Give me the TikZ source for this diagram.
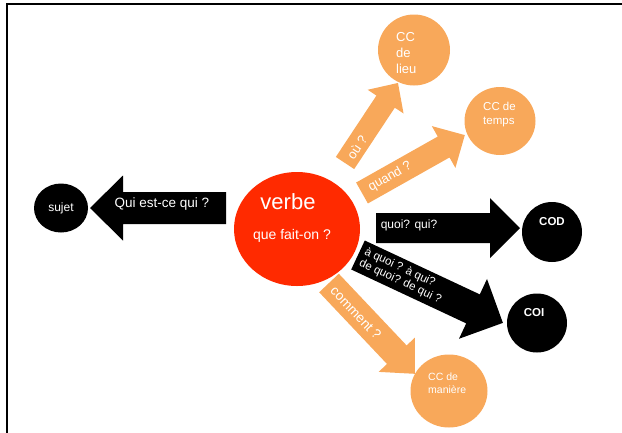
\documentclass[tikz,border=0pt]{standalone}
\usepackage{fontspec}
\setmainfont{Liberation Sans}
\usetikzlibrary{shapes.geometric}
\definecolor{orng}{HTML}{F8A85A}
\definecolor{rouge}{HTML}{FF2A00}
% #1,#2 tail centre (px), #3 angle, #4 length, #5 half shaft, #6 half head, #7 head start, #8 colour
\newcommand\blockarr[8]{%
  \begin{scope}[shift={(#1,#2)},rotate=#3]
    \fill[#8] (0pt,-#5pt) -- (#7pt,-#5pt) -- (#7pt,-#6pt) -- (#4pt,0pt)
      -- (#7pt,#6pt) -- (#7pt,#5pt) -- (0pt,#5pt) -- cycle;
  \end{scope}}
\newcommand\fsz[2]{\fontsize{#1}{#2}\selectfont}
\begin{document}
\begin{tikzpicture}[x=1pt,y=-1pt,
  blob/.style={ellipse, draw=none, inner sep=0pt},
  wtxt/.style={text=white, inner sep=0pt}]
\useasboundingbox (0,0) rectangle (622,432);
% frame
\draw[line width=2pt] (7,433) -- (7,4.3) -- (623,4.3);
% arrows
\blockarr{226}{208}{180}{136}{16}{32.5}{103}{black}
\blockarr{376}{228}{0}{144}{15}{30}{114}{black}
\blockarr{345}{163}{56.5}{96}{11}{21.5}{73.6}{orng}
\blockarr{362}{193}{29.4}{118}{12}{24}{93.7}{orng}
\blockarr{329}{283}{-46.6}{125}{13.5}{25}{98.7}{orng}
\blockarr{358}{255}{-25.1}{160}{16}{33}{127}{black}
% circles
\node[blob, fill=black, minimum width=54pt, minimum height=49pt] (sujet) at (61,208) {};
\node[blob, fill=rouge, minimum width=126pt, minimum height=114pt] (verbe) at (297,229) {};
\node[blob, fill=orng, minimum width=72pt, minimum height=71pt] (lieu) at (414,50) {};
\node[blob, fill=orng, minimum width=71pt, minimum height=68pt] (temps) at (500,121) {};
\node[blob, fill=black, minimum width=60pt, minimum height=60pt] (cod) at (552,232) {};
\node[blob, fill=black, minimum width=60pt, minimum height=59pt] (coi) at (537,323) {};
\node[blob, fill=orng, minimum width=77pt, minimum height=73pt] (maniere) at (449,391) {};
% circle texts
\node[wtxt, font=\fsz{12}{14}] (tsujet) at (61,208) {sujet};
\node[wtxt, font=\fsz{22}{26}] (tverbe) at (288,202) {verbe};
\node[wtxt, font=\fsz{14}{16}] (tque) at (292,236) {que fait-on ?};
\node[wtxt, font=\fsz{13}{16}, align=left, anchor=west] (tlieu) at (396,53) {CC\\de\\lieu};
\node[wtxt, font=\fsz{11.5}{14}, align=left, anchor=west] (ttemps) at (483,115) {CC de\\temps};
\node[wtxt, font=\bfseries\fsz{11.5}{14}] (tcod) at (552,222) {COD};
\node[wtxt, font=\bfseries\fsz{11.5}{14}] (tcoi) at (534,313) {COI};
\node[wtxt, font=\fsz{10.5}{12.5}, align=left, anchor=west] (tman) at (428,383) {CC de\\manière};
% arrow texts
\node[wtxt, font=\fsz{13.5}{16}] (tqui) at (162,204) {Qui est-ce qui ?};
\node[wtxt, font=\fsz{12}{14}] (tquoi) at (409,225) {quoi? qui?};
\node[wtxt, font=\fsz{13}{16}, rotate=56.5] (tou) at (357,147) {où ?};
\node[wtxt, font=\fsz{13}{16}, rotate=29.4] (tquand) at (390,177) {quand ?};
\node[wtxt, font=\fsz{13.5}{16}, rotate=-46.6] (tcomment) at (356,313) {comment ?};
\node[wtxt, font=\fsz{11.5}{12.5}, rotate=-25.1, align=left] (taquoi) at (403,276) {à quoi ? à qui?\\de quoi? de qui ?};
\end{tikzpicture}
\end{document}
